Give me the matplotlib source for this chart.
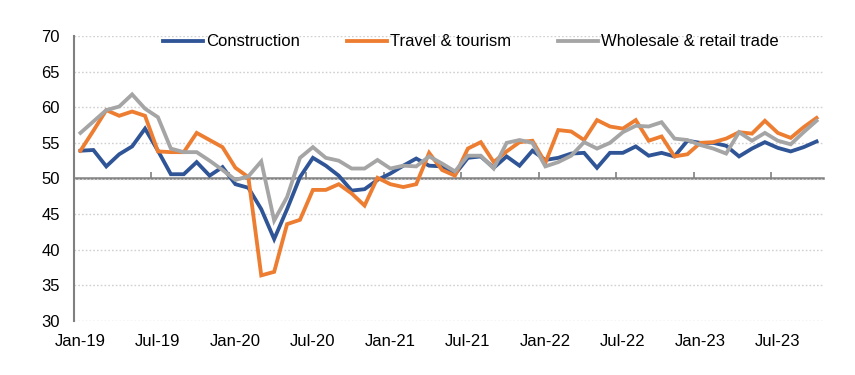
import matplotlib.pyplot as plt
import numpy as np

plt.rcParams['font.family'] = ['Liberation Sans', 'DejaVu Sans']

# monthly series, Jan-19 .. Oct-23
construction = [53.9, 54.0, 51.7, 53.4, 54.5, 57.0, 53.9, 50.6, 50.6, 52.3,
                50.4, 51.6, 49.2, 48.7, 45.7, 41.5, 45.7, 50.2, 52.9, 51.8,
                50.4, 48.3, 48.5, 49.8, 50.7, 51.8, 52.8, 51.8, 51.7, 50.6,
                52.9, 53.1, 51.5, 53.1, 51.8, 53.9, 52.6, 52.9, 53.5, 53.6,
                51.5, 53.6, 53.6, 54.5, 53.2, 53.6, 53.1, 55.3, 55.0, 55.0,
                54.6, 53.1, 54.2, 55.1, 54.3, 53.8, 54.4, 55.2]
travel = [53.9, 56.7, 59.6, 58.8, 59.4, 58.8, 53.8, 53.7, 53.7, 56.4,
          55.4, 54.4, 51.5, 50.2, 36.4, 36.9, 43.6, 44.2, 48.4, 48.4,
          49.2, 47.9, 46.2, 50.1, 49.2, 48.8, 49.2, 53.6, 51.2, 50.4,
          54.2, 55.1, 52.3, 53.8, 55.1, 55.3, 52.2, 56.8, 56.6, 55.4,
          58.2, 57.3, 57.0, 58.2, 55.3, 55.9, 53.1, 53.4, 55.0, 55.1,
          55.6, 56.5, 56.3, 58.1, 56.4, 55.7, 57.2, 58.5]
wholesale = [56.4, 58.0, 59.6, 60.1, 61.8, 59.8, 58.6, 54.2, 53.7, 53.7,
             52.5, 51.2, 49.8, 50.3, 52.4, 44.1, 47.4, 52.9, 54.4, 52.9,
             52.5, 51.4, 51.4, 52.6, 51.4, 51.8, 51.7, 53.1, 52.1, 51.0,
             53.2, 53.2, 51.4, 55.0, 55.4, 55.0, 51.7, 52.3, 53.2, 55.1,
             54.2, 55.0, 56.5, 57.4, 57.3, 57.9, 55.6, 55.4, 54.7, 54.2,
             53.5, 56.5, 55.3, 56.4, 55.3, 54.8, 56.5, 58.1]
tick_labels = ['Jan-19', 'Jul-19', 'Jan-20', 'Jul-20', 'Jan-21', 'Jul-21',
               'Jan-22', 'Jul-22', 'Jan-23', 'Jul-23']

x = np.arange(len(construction))

fig = plt.figure(figsize=(8.55, 3.75), dpi=100)
ax = fig.add_axes([74 / 855, 1 - 321 / 375, 749 / 855, 285 / 375])

ax.plot(x, construction, color='#2F5597', lw=2.75, label='Construction', solid_joinstyle='miter')
ax.plot(x, travel, color='#ED7D31', lw=2.75, label='Travel & tourism', solid_joinstyle='miter')
ax.plot(x, wholesale, color='#A5A5A5', lw=2.75, label='Wholesale & retail trade', solid_joinstyle='miter')

ax.set_xlim(-0.5, len(x) - 0.5)
ax.set_ylim(30, 70)
ax.set_yticks(np.arange(30, 71, 5))
ax.set_xticks(np.arange(0, len(x), 6))
ax.set_xticklabels(tick_labels)
ax.tick_params(axis='both', length=0, labelsize=12, colors='black')
ax.tick_params(axis='x', pad=9)
ax.tick_params(axis='y', pad=10)

ax.grid(axis='y', color='#D0D0D0', lw=1, linestyle=(0, (1.2, 1.5)))
ax.set_axisbelow(True)
for s in ['top', 'right', 'bottom']:
    ax.spines[s].set_visible(False)
ax.spines['left'].set_color('#808080')
ax.spines['left'].set_linewidth(1.5)

# horizontal axis crosses at 50, tick marks point up
sec = ax.secondary_xaxis((50 - 30) / (70 - 30))
sec.set_xticks(np.arange(5.5, len(x) - 1, 6))
sec.set_xticklabels([])
sec.tick_params(axis='x', which='both', top=True, bottom=False, direction='out',
                length=4, width=1.2, color='#808080', labeltop=False, labelbottom=False)
for s in ['top', 'bottom']:
    sec.spines[s].set_color('#808080')
    sec.spines[s].set_linewidth(1.8)

fig.legend(loc='center', bbox_to_anchor=(471 / 855, 1 - 42 / 375), ncol=3,
           frameon=False, fontsize=12, handlelength=2.4, handletextpad=0.2,
           columnspacing=2.8)

fig.savefig('out.png', dpi=100)
